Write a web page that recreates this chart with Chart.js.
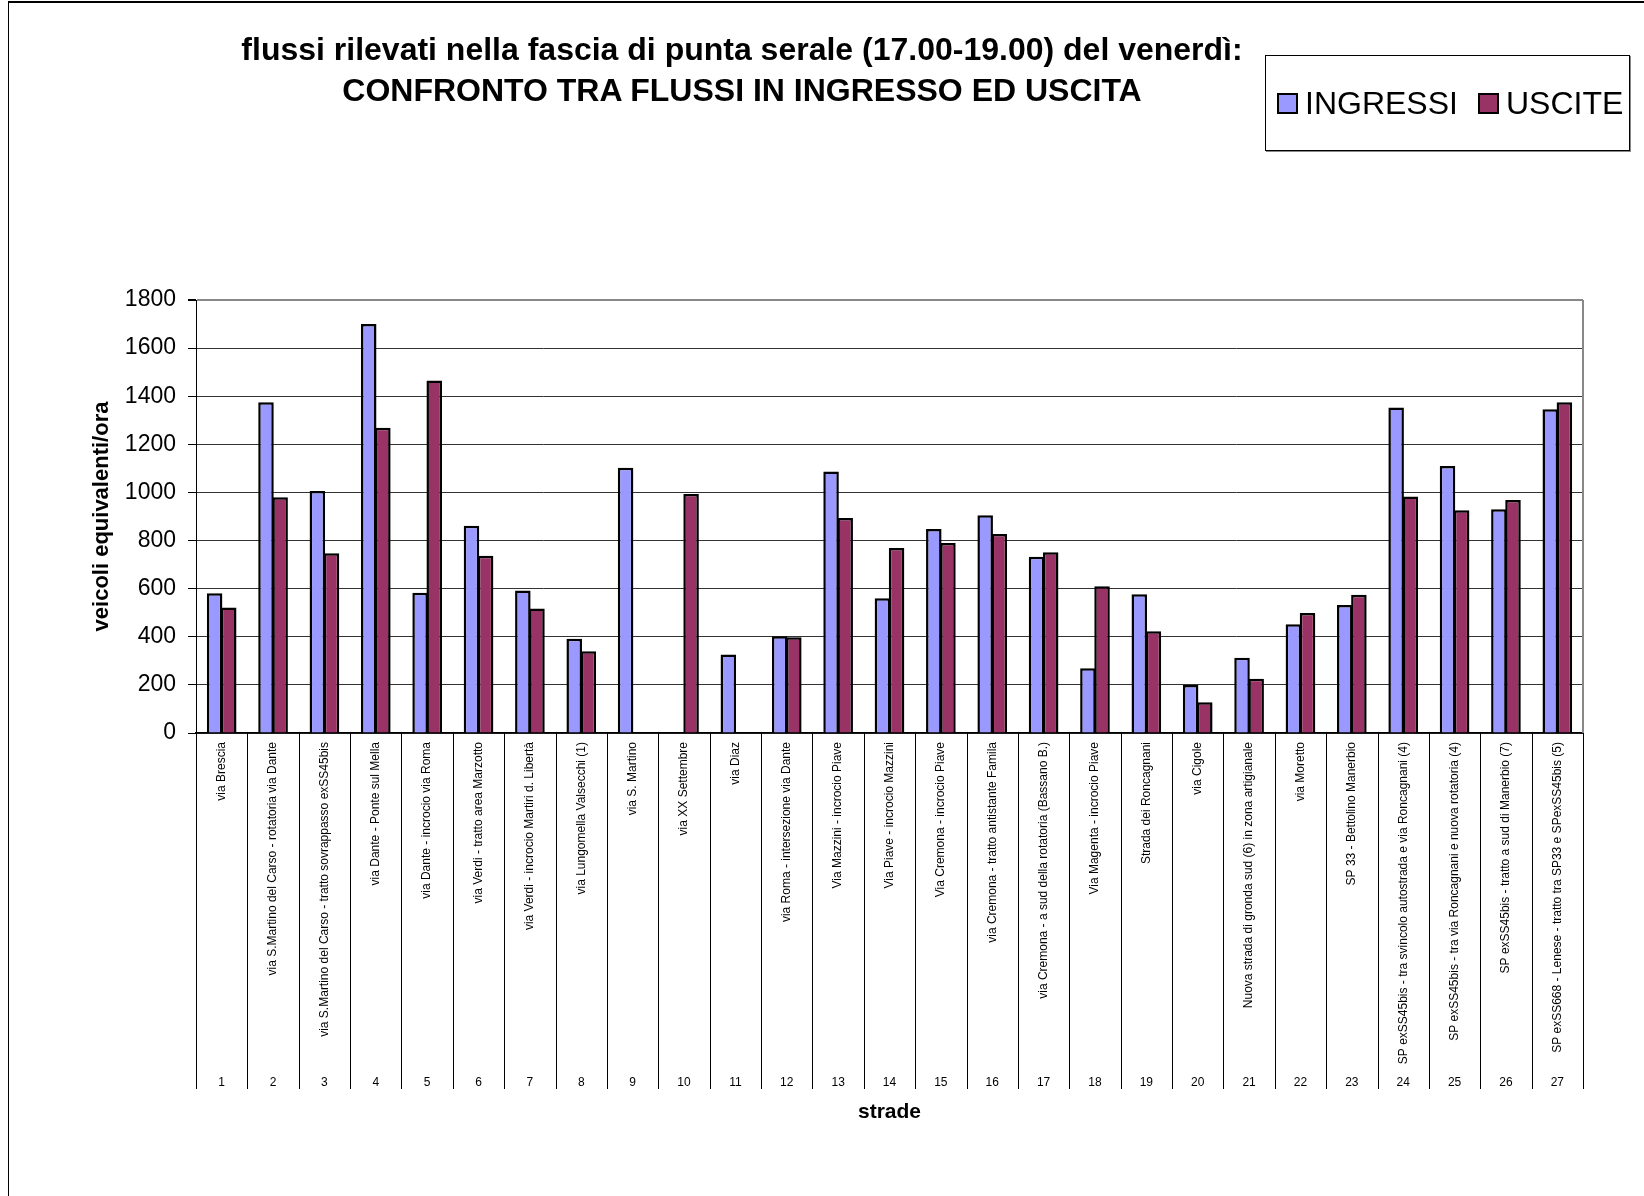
<!DOCTYPE html>
<html>
<head>
<meta charset="utf-8">
<script src="https://cdn.jsdelivr.net/npm/chart.js@4.4.1/dist/chart.umd.min.js"></script>
<style>
  html, body { margin: 0; padding: 0; background: #fff; }
  #wrap { position: relative; width: 1644px; height: 1196px; overflow: hidden; font-family: "Liberation Sans", Arial, sans-serif; }
  #frame { position: absolute; left: 8px; top: 1px; width: 1700px; height: 1300px; border-top: 2px solid #000; border-left: 1px solid #000; }
  #title { position: absolute; left: 0; top: 29px; width: 1484px; text-align: center; font-weight: bold; font-size: 32px; line-height: 41px; color: #000; }
  #legend { position: absolute; left: 1265px; top: 55px; width: 363px; height: 94px; border: 1px solid #000; box-shadow: 1px 1px 0 #888; background: #fff; }
  #legend .item { position: absolute; top: 0; height: 94px; display: flex; align-items: center; font-size: 32px; color: #000; }
  #legend .sw { width: 17px; height: 17px; border: 2px solid #000; margin-right: 7px; }
  canvas { position: absolute; left: 0; top: 0; }
</style>
</head>
<body>
<div id="wrap">
  <div id="frame"></div>
  <canvas id="chart" width="1644" height="1196"></canvas>
  <div id="title">flussi rilevati nella fascia di punta serale (17.00-19.00) del venerdì:<br>CONFRONTO TRA FLUSSI IN INGRESSO ED USCITA</div>
  <div id="legend"></div>
</div>
<script>
// nomi delle strade (asse x)
const strade = [
  "via Brescia",
  "via S.Martino del Carso - rotatoria via Dante",
  "via S.Martino del Carso - tratto sovrappasso exSS45bis",
  "via Dante - Ponte sul Mella",
  "via Dante - incrocio via Roma",
  "via Verdi - tratto area Marzotto",
  "via Verdi - incrocio Martiri d. Libertà",
  "via Lungomella Valsecchi (1)",
  "via S. Martino",
  "via XX Settembre",
  "via Diaz",
  "via Roma - intersezione via Dante",
  "Via Mazzini - incrocio Piave",
  "Via Piave - incrocio Mazzini",
  "Via Cremona - incrocio Piave",
  "via Cremona - tratto antistante Famila",
  "via Cremona - a sud della rotatoria (Bassano B.)",
  "Via Magenta - incrocio Piave",
  "Strada dei Roncagnani",
  "via Cigole",
  "Nuova strada di gronda sud (6) in zona artigianale",
  "via Moretto",
  "SP 33 - Bettolino Manerbio",
  "SP exSS45bis - tra svincolo autostrada e via Roncagnani (4)",
  "SP exSS45bis - tra via Roncagnani e nuova rotatoria (4)",
  "SP exSS45bis - tratto a sud di Manerbio (7)",
  "SP exSS668 - Lenese - tratto tra SP33 e SPexSS45bis (5)"
];
const numeri = strade.map((s, i) => String(i + 1));

const ingressi = [581, 1375, 1006, 1700, 583, 862, 592, 392, 1103, null, 326, 402, 1087, 560,
  848, 905, 733, 269, 577, 200, 313, 452, 532, 1353, 1110, 930, 1346];
const uscite = [522, 980, 747, 1269, 1465, 737, 518, 340, null, 994, null, 398, 894, 769,
  790, 827, 751, 610, 423, 128, 226, 499, 575, 983, 926, 969, 1375];

const yTicks = [0, 200, 400, 600, 800, 1000, 1200, 1400, 1600, 1800];

const FONT = "'Liberation Sans', Arial, sans-serif";

// linee di separazione tra le categorie, come nel grafico excel
const separatori = {
  id: "separatori",
  afterDraw(chart) {
    const x = chart.scales.x;
    const x2 = chart.scales.x2;
    const area = chart.chartArea;
    const ctx = chart.ctx;
    const half = (x.getPixelForValue(1) - x.getPixelForValue(0)) / 2;
    ctx.save();
    ctx.strokeStyle = "#000";
    ctx.lineWidth = 1;
    for (let i = 0; i <= strade.length; i++) {
      let px = i < strade.length ? x.getPixelForValue(i) - half : x.getPixelForValue(i - 1) + half;
      px = Math.round(px) + 0.5;
      ctx.beginPath();
      ctx.moveTo(px, area.bottom);
      ctx.lineTo(px, x2.top + 22);
      ctx.stroke();
    }
    // bordo destro grigio
    ctx.strokeStyle = "#888";
    ctx.lineWidth = 2;
    ctx.beginPath();
    ctx.moveTo(area.right, area.top);
    ctx.lineTo(area.right, area.bottom);
    ctx.stroke();
    ctx.restore();
  }
};

const chart = new Chart(document.getElementById("chart"), {
  type: "bar",
  data: {
    labels: strade,
    datasets: [
      {
        label: "INGRESSI",
        data: ingressi,
        backgroundColor: "#9999FF",
        borderColor: "#000",
        borderWidth: 2.5,
        categoryPercentage: 0.55,
        barPercentage: 1.1,
      },
      {
        label: "USCITE",
        data: uscite,
        backgroundColor: "#993366",
        borderColor: "#000",
        borderWidth: 2.5,
        categoryPercentage: 0.55,
        barPercentage: 1.1,
      },
    ],
  },
  options: {
    responsive: false,
    animation: false,
    layout: { padding: { left: 89, right: 61, top: 300, bottom: 71 } },
    plugins: {
      legend: { display: false },
      title: { display: false },
      tooltip: { enabled: false },
    },
    scales: {
      y: {
        min: 0,
        max: 1800,
        afterBuildTicks(scale) {
          scale.ticks = yTicks.map((v) => ({ value: v }));
        },
        afterFit(scale) { scale.width = 107; },
        ticks: {
          color: "#000",
          padding: 12,
          font: { family: FONT, size: 23 },
          callback: (v) => String(v),
        },
        grid: {
          color: (c) => (c.tick && c.tick.value === 1800 ? "#888" : "#333"),
          lineWidth: (c) => (c.tick && c.tick.value === 1800 ? 2 : 1),
          tickColor: "#000",
          tickLength: 8,
        },
        border: { color: "#000", width: 1 },
        title: {
          display: true,
          text: "veicoli equivalenti/ora",
          color: "#000",
          padding: 0,
          font: { family: FONT, size: 22, weight: "bold" },
        },
      },
      x: {
        afterFit(scale) { scale.height = 334; },
        ticks: {
          color: "#000",
          autoSkip: false,
          minRotation: 90,
          maxRotation: 90,
          padding: 1,
          font: { family: FONT, size: 12 },
        },
        grid: { display: false },
        border: { display: true, color: "#000", width: 1.5 },
      },
      x2: {
        type: "category",
        position: "bottom",
        labels: numeri,
        offset: true,
        weight: 1,
        afterFit(scale) { scale.height = 58; },
        ticks: { color: "#000", autoSkip: false, maxRotation: 0, padding: 0, font: { family: FONT, size: 12 } },
        grid: { display: false },
        border: { display: false },
        title: {
          display: true,
          text: "strade",
          color: "#000",
          padding: 0,
          font: { family: FONT, size: 21, weight: "bold" },
        },
      },
    },
  },
  plugins: [separatori],
});

// legenda con riquadro, costruita dai dataset del grafico
const legend = document.getElementById("legend");
const posizioni = [11, 212];
chart.data.datasets.forEach(function (ds, i) {
  const item = document.createElement("div");
  item.className = "item";
  item.style.left = posizioni[i] + "px";
  const sw = document.createElement("span");
  sw.className = "sw";
  sw.style.background = ds.backgroundColor;
  item.appendChild(sw);
  item.appendChild(document.createTextNode(ds.label));
  legend.appendChild(item);
});
</script>
</body>
</html>
